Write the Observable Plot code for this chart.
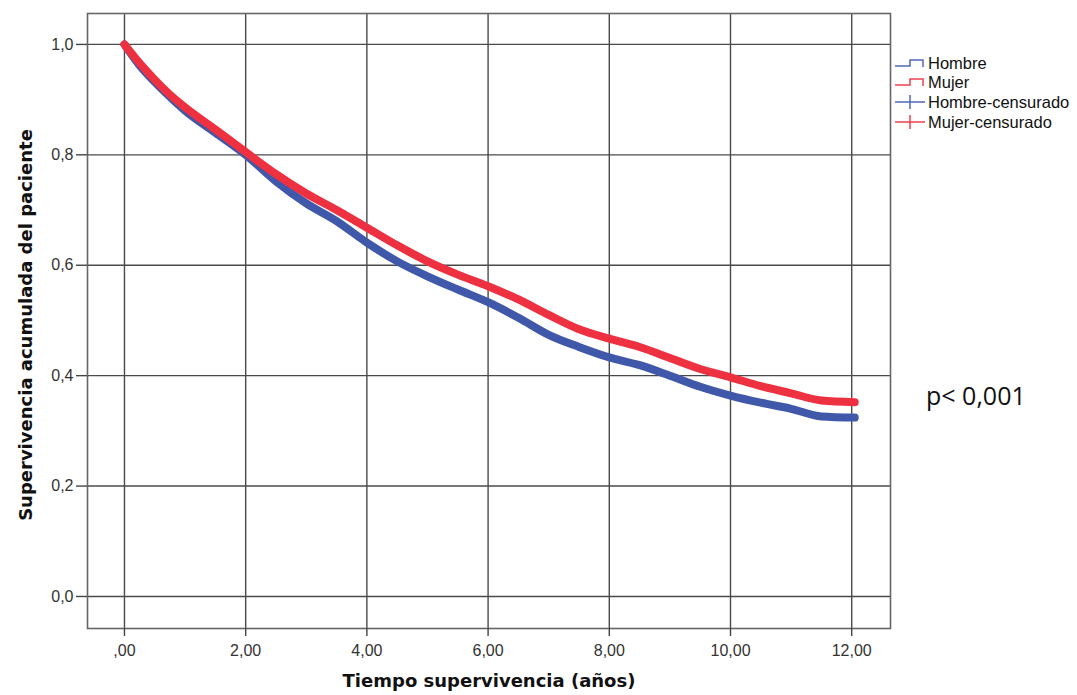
<!DOCTYPE html>
<html>
<head>
<meta charset="utf-8">
<script src="https://cdn.jsdelivr.net/npm/d3@7"></script>
<script src="https://cdn.jsdelivr.net/npm/@observablehq/plot@0.6"></script>
<style>
  html, body { margin: 0; padding: 0; background: #fff; }
  #chart { width: 1077px; height: 695px; }
</style>
</head>
<body>
<div id="chart"></div>
<script>
// Data
const tiempo = [0, 0.25, 0.5, 0.75, 1.0, 1.5, 2.0, 2.5, 3.0, 3.5, 4.0, 4.5, 5.0, 5.5, 6.0, 6.5, 7.0, 7.5, 8.0, 8.5, 9.0, 9.5, 10.0, 10.5, 11.0, 11.5, 12.05];
const hombre = [1.0, 0.962, 0.932, 0.905, 0.880, 0.840, 0.800, 0.752, 0.712, 0.680, 0.641, 0.607, 0.580, 0.556, 0.533, 0.505, 0.474, 0.452, 0.433, 0.419, 0.400, 0.380, 0.364, 0.351, 0.340, 0.326, 0.324];
const mujer  = [1.0, 0.966, 0.936, 0.909, 0.886, 0.846, 0.805, 0.765, 0.730, 0.700, 0.668, 0.636, 0.607, 0.583, 0.562, 0.538, 0.510, 0.484, 0.467, 0.452, 0.432, 0.412, 0.397, 0.381, 0.368, 0.355, 0.352];

const xTicks = [0, 2, 4, 6, 8, 10, 12];
const xTickLabels = [",00", "2,00", "4,00", "6,00", "8,00", "10,00", "12,00"];
const yTicks = [0, 0.2, 0.4, 0.6, 0.8, 1.0];
const yTickLabels = ["0,0", "0,2", "0,4", "0,6", "0,8", "1,0"];

const series = ["Hombre", "Mujer"];
const legendLabels = ["Hombre", "Mujer", "Hombre-censurado", "Mujer-censurado"];
const colors = {Hombre: "#3F58AA", Mujer: "#EE3140"};
const xTitle = "Tiempo supervivencia (años)";
const yTitle = "Supervivencia acumulada del paciente";
const pText = "p< 0,001";

const rows = [];
tiempo.forEach((t, i) => rows.push({serie: "Hombre", t, s: hombre[i]}));
tiempo.forEach((t, i) => rows.push({serie: "Mujer", t, s: mujer[i]}));

const font = "'Liberation Sans', Arial, sans-serif";
const titleFont = "'DejaVu Sans', Verdana, sans-serif";

const chart = Plot.plot({
  width: 1077,
  height: 695,
  marginLeft: 87,
  marginRight: 187,
  marginTop: 13,
  marginBottom: 67,
  style: {fontFamily: font, fontSize: "16px", color: "#333", background: "#fff", overflow: "visible"},
  x: {domain: [-0.61, 12.64]},
  y: {domain: [-0.058, 1.056]},
  marks: [
    Plot.gridX(xTicks, {stroke: "#4a4a4a", strokeOpacity: 1, strokeWidth: 1.4}),
    Plot.gridY(yTicks, {stroke: "#4a4a4a", strokeOpacity: 1, strokeWidth: 1.4}),
    Plot.frame({stroke: "#666", strokeWidth: 1.6}),
    Plot.axisX(xTicks, {
      tickFormat: d => xTickLabels[xTicks.indexOf(d)],
      tickSize: 8, tickPadding: 8, stroke: "#444", strokeWidth: 1.4,
      fill: "#333", fontSize: 16, label: null
    }),
    Plot.axisY(yTicks, {
      tickFormat: d => yTickLabels[yTicks.indexOf(d)],
      tickSize: 11, tickPadding: 3, stroke: "#444", strokeWidth: 1.4,
      fill: "#333", fontSize: 16, label: null
    }),
    Plot.line(rows.filter(d => d.serie === "Hombre"), {
      x: "t", y: "s", stroke: colors.Hombre, strokeWidth: 8, strokeLinejoin: "round", curve: "monotone-x"
    }),
    Plot.line(rows.filter(d => d.serie === "Mujer"), {
      x: "t", y: "s", stroke: colors.Mujer, strokeWidth: 8, strokeLinejoin: "round", curve: "monotone-x"
    })
  ]
});

document.getElementById("chart").appendChild(chart);

const svg = d3.select(chart);

// Axis titles
svg.append("text")
  .attr("x", 489).attr("y", 687)
  .attr("text-anchor", "middle")
  .attr("font-family", titleFont)
  .attr("font-weight", "bold")
  .attr("font-size", 18)
  .attr("fill", "#111")
  .text(xTitle);

svg.append("text")
  .attr("transform", "translate(32,325) rotate(-90)")
  .attr("text-anchor", "middle")
  .attr("font-family", titleFont)
  .attr("font-weight", "bold")
  .attr("font-size", 18)
  .attr("fill", "#111")
  .text(yTitle);

// Legend
const lg = svg.append("g")
  .attr("font-family", font).attr("font-size", 16.5).attr("fill", "#111")
  .attr("text-anchor", "start");
const rowsY = [63, 82, 102, 122];
const legColors = ["#5068b8", "#ee4050", "#5068b8", "#ee4050"];
legendLabels.forEach((lab, i) => {
  const y = rowsY[i];
  if (i < 2) {
    lg.append("path")
      .attr("d", `M895,${y + 3}H910V${y - 3}H923V${y + 4}`)
      .attr("fill", "none").attr("stroke", legColors[i]).attr("stroke-width", 1.5);
  } else {
    lg.append("path")
      .attr("d", `M895,${y}H925M910,${y - 7}V${y + 7}`)
      .attr("fill", "none").attr("stroke", legColors[i]).attr("stroke-width", 1.5);
  }
  lg.append("text")
    .attr("x", 928).attr("y", y).attr("dy", "0.35em")
    .attr("text-anchor", "start")
    .text(lab);
});

// p-value annotation
svg.append("text")
  .attr("x", 926).attr("y", 405)
  .attr("text-anchor", "start")
  .attr("font-family", "'Open Sans', 'Noto Sans', sans-serif")
  .attr("font-size", 25)
  .attr("fill", "#111")
  .text(pText);
</script>
</body>
</html>
